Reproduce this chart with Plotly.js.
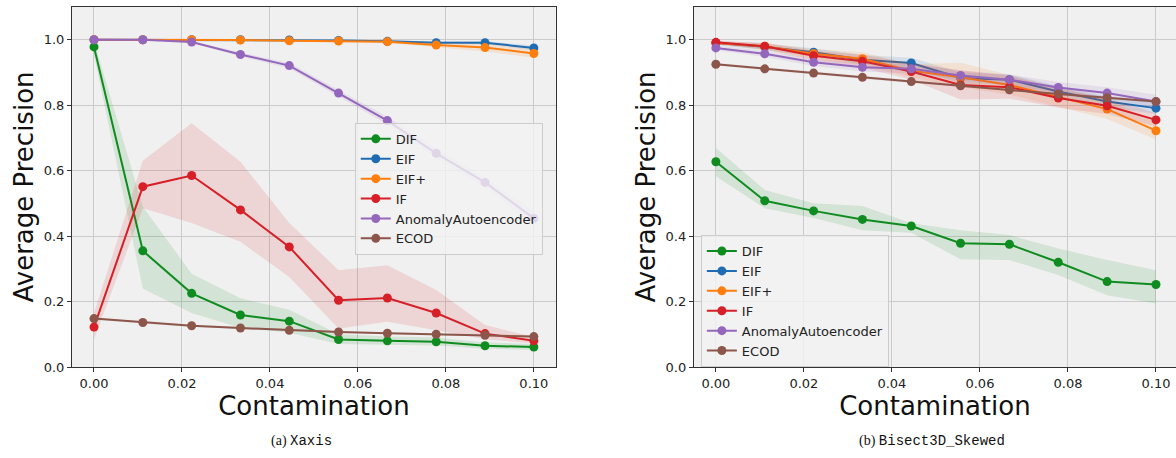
<!DOCTYPE html>
<html>
<head>
<meta charset="utf-8">
<script src="https://cdn.plot.ly/plotly-3.0.1.min.js"></script>
<style>
  html, body { margin: 0; padding: 0; background: #ffffff; }
  #chart { width: 1176px; height: 458px; }
</style>
</head>
<body>
<div id="chart"></div>
<script>
// ---------- data ----------
const contamination = [0.0, 0.0111, 0.0222, 0.0333, 0.0444, 0.0556, 0.0667, 0.0778, 0.0889, 0.1];
const methodNames = ["DIF", "EIF", "EIF+", "IF", "AnomalyAutoencoder", "ECOD"];
const methodColors = ["#0f8c1f", "#1f6cb3", "#ff7f0e", "#d61f26", "#9467bd", "#8c564b"];

// (a) Xaxis
const xaxis_DIF      = [0.978, 0.355, 0.225, 0.159, 0.140, 0.084, 0.080, 0.077, 0.065, 0.061];
const xaxis_DIF_lo   = [0.955, 0.240, 0.165, 0.120, 0.105, 0.070, 0.068, 0.066, 0.056, 0.052];
const xaxis_DIF_hi   = [0.995, 0.490, 0.285, 0.210, 0.175, 0.100, 0.093, 0.090, 0.075, 0.070];
const xaxis_EIF      = [1.000, 1.000, 1.000, 1.000, 0.999, 0.998, 0.995, 0.991, 0.991, 0.975];
const xaxis_EIF_lo   = [1.000, 1.000, 1.000, 0.998, 0.996, 0.995, 0.992, 0.987, 0.986, 0.968];
const xaxis_EIF_hi   = [1.000, 1.000, 1.000, 1.000, 1.000, 1.000, 0.998, 0.995, 0.996, 0.982];
const xaxis_EIFp     = [1.000, 1.000, 1.000, 0.999, 0.997, 0.996, 0.994, 0.984, 0.976, 0.958];
const xaxis_EIFp_lo  = [1.000, 1.000, 1.000, 0.997, 0.994, 0.993, 0.990, 0.977, 0.964, 0.945];
const xaxis_EIFp_hi  = [1.000, 1.000, 1.000, 1.000, 1.000, 0.999, 0.998, 0.991, 0.988, 0.971];
const xaxis_IF       = [0.122, 0.551, 0.585, 0.480, 0.367, 0.204, 0.211, 0.165, 0.102, 0.080];
const xaxis_IF_lo    = [0.085, 0.485, 0.440, 0.383, 0.275, 0.118, 0.138, 0.112, 0.085, 0.072];
const xaxis_IF_hi    = [0.165, 0.630, 0.745, 0.627, 0.440, 0.296, 0.311, 0.235, 0.128, 0.092];
const xaxis_AE       = [1.000, 1.000, 0.993, 0.955, 0.921, 0.837, 0.753, 0.653, 0.564, 0.454];
const xaxis_AE_lo    = [1.000, 1.000, 0.990, 0.949, 0.913, 0.827, 0.741, 0.638, 0.549, 0.434];
const xaxis_AE_hi    = [1.000, 1.000, 0.996, 0.961, 0.929, 0.847, 0.765, 0.668, 0.579, 0.474];
const xaxis_ECOD     = [0.148, 0.136, 0.126, 0.119, 0.112, 0.107, 0.103, 0.100, 0.097, 0.093];
const xaxis_ECOD_lo  = [0.144, 0.133, 0.123, 0.116, 0.109, 0.104, 0.100, 0.097, 0.094, 0.090];
const xaxis_ECOD_hi  = [0.152, 0.139, 0.129, 0.122, 0.115, 0.110, 0.106, 0.103, 0.100, 0.096];

// (b) Bisect3D_Skewed
const bisect_DIF     = [0.627, 0.508, 0.477, 0.451, 0.431, 0.378, 0.375, 0.320, 0.261, 0.252];
const bisect_DIF_lo  = [0.583, 0.485, 0.455, 0.418, 0.410, 0.329, 0.327, 0.281, 0.219, 0.194];
const bisect_DIF_hi  = [0.669, 0.541, 0.500, 0.492, 0.439, 0.418, 0.403, 0.362, 0.327, 0.296];
const bisect_EIF     = [0.990, 0.978, 0.962, 0.939, 0.929, 0.883, 0.878, 0.842, 0.811, 0.791];
const bisect_EIF_lo  = [0.984, 0.968, 0.950, 0.925, 0.913, 0.866, 0.862, 0.826, 0.795, 0.773];
const bisect_EIF_hi  = [0.996, 0.988, 0.974, 0.953, 0.945, 0.900, 0.894, 0.858, 0.827, 0.809];
const bisect_EIFp    = [0.990, 0.980, 0.957, 0.942, 0.905, 0.885, 0.862, 0.825, 0.788, 0.722];
const bisect_EIFp_lo = [0.985, 0.970, 0.942, 0.922, 0.885, 0.855, 0.832, 0.795, 0.758, 0.695];
const bisect_EIFp_hi = [0.995, 0.990, 0.972, 0.962, 0.925, 0.930, 0.892, 0.855, 0.818, 0.749];
const bisect_IF      = [0.992, 0.980, 0.951, 0.934, 0.903, 0.862, 0.855, 0.822, 0.798, 0.755];
const bisect_IF_lo   = [0.987, 0.970, 0.936, 0.914, 0.878, 0.817, 0.820, 0.792, 0.773, 0.735];
const bisect_IF_hi   = [0.997, 0.990, 0.966, 0.954, 0.928, 0.907, 0.890, 0.852, 0.823, 0.775];
const bisect_AE      = [0.975, 0.957, 0.931, 0.916, 0.911, 0.891, 0.878, 0.854, 0.837, 0.811];
const bisect_AE_lo   = [0.968, 0.948, 0.920, 0.903, 0.897, 0.876, 0.862, 0.837, 0.819, 0.790];
const bisect_AE_hi   = [0.982, 0.966, 0.942, 0.929, 0.925, 0.906, 0.894, 0.871, 0.855, 0.832];
const bisect_ECOD    = [0.925, 0.911, 0.898, 0.885, 0.872, 0.859, 0.847, 0.834, 0.823, 0.811];
const bisect_ECOD_lo = [0.921, 0.907, 0.894, 0.881, 0.868, 0.855, 0.843, 0.830, 0.819, 0.807];
const bisect_ECOD_hi = [0.929, 0.915, 0.902, 0.889, 0.876, 0.863, 0.851, 0.838, 0.827, 0.815];

const xTickVals  = [0.0, 0.02, 0.04, 0.06, 0.08, 0.10];
const xTickText  = ["0.00", "0.02", "0.04", "0.06", "0.08", "0.10"];
const yTickVals  = [0.0, 0.2, 0.4, 0.6, 0.8, 1.0];
const yTickText  = ["0.0", "0.2", "0.4", "0.6", "0.8", "1.0"];

const panelA = [
  [xaxis_DIF, xaxis_DIF_lo, xaxis_DIF_hi],
  [xaxis_EIF, xaxis_EIF_lo, xaxis_EIF_hi],
  [xaxis_EIFp, xaxis_EIFp_lo, xaxis_EIFp_hi],
  [xaxis_IF, xaxis_IF_lo, xaxis_IF_hi],
  [xaxis_AE, xaxis_AE_lo, xaxis_AE_hi],
  [xaxis_ECOD, xaxis_ECOD_lo, xaxis_ECOD_hi]
];
const panelB = [
  [bisect_DIF, bisect_DIF_lo, bisect_DIF_hi],
  [bisect_EIF, bisect_EIF_lo, bisect_EIF_hi],
  [bisect_EIFp, bisect_EIFp_lo, bisect_EIFp_hi],
  [bisect_IF, bisect_IF_lo, bisect_IF_hi],
  [bisect_AE, bisect_AE_lo, bisect_AE_hi],
  [bisect_ECOD, bisect_ECOD_lo, bisect_ECOD_hi]
];

function hexToRgba(hex, a) {
  const n = parseInt(hex.slice(1), 16);
  return `rgba(${(n >> 16) & 255},${(n >> 8) & 255},${n & 255},${a})`;
}

const traces = [];
function addPanel(panel, xa, ya, legendId) {
  panel.forEach((s, i) => {
    const [mean, lo, hi] = s;
    const col = methodColors[i];
    traces.push({
      x: contamination.concat(contamination.slice().reverse()),
      y: hi.concat(lo.slice().reverse()),
      xaxis: xa, yaxis: ya,
      type: "scatter", mode: "lines", fill: "toself",
      fillcolor: hexToRgba(col, 0.13),
      line: { width: 0, color: "rgba(0,0,0,0)" },
      hoverinfo: "skip", showlegend: false
    });
    traces.push({
      x: contamination, y: mean,
      xaxis: xa, yaxis: ya,
      type: "scatter", mode: "lines+markers",
      name: methodNames[i],
      legend: legendId,
      line: { color: col, width: 2 },
      marker: { color: col, size: 9 }
    });
  });
}
addPanel(panelA, "x", "y", "legend");
addPanel(panelB, "x2", "y2", "legend2");

const FONT = "DejaVu Sans, sans-serif";
const axisCommon = {
  showgrid: true, gridcolor: "#cbcbcb", gridwidth: 1,
  zeroline: false, showline: true, linecolor: "#333333", linewidth: 1, mirror: true,
  ticks: "outside", ticklen: 4, tickwidth: 1, tickcolor: "#333333",
  tickfont: { family: FONT, size: 13, color: "#222222" }
};

const mL = 72.3, mT = 7.3, mB = 91.3, mR = 0;
const plotW = 1176 - mL - mR;
const plotH = 458 - mT - mB;

const legendCommon = {
  bgcolor: "rgba(243,243,243,0.8)", bordercolor: "#cccccc", borderwidth: 1,
  font: { family: FONT, size: 13, color: "#222222" },
  xanchor: "left", yanchor: "top", itemwidth: 30, tracegroupgap: 0
};

const layout = {
  width: 1176, height: 458,
  paper_bgcolor: "#ffffff", plot_bgcolor: "#f0f0f0",
  margin: { l: mL, r: mR, t: mT, b: mB, pad: 0 },
  showlegend: true,
  xaxis: Object.assign({}, axisCommon, {
    domain: [0, (556 - mL) / plotW], range: [-0.005, 0.105],
    tickvals: xTickVals, ticktext: xTickText,
    title: { text: "Contamination", font: { family: FONT, size: 26, color: "#111111" }, standoff: 6 },
    anchor: "y"
  }),
  yaxis: Object.assign({}, axisCommon, {
    domain: [0, 1], range: [0, 1.1],
    tickvals: yTickVals, ticktext: yTickText,
    title: { text: "Average Precision", font: { family: FONT, size: 26, color: "#111111" }, standoff: 2 },
    anchor: "x"
  }),
  xaxis2: Object.assign({}, axisCommon, {
    domain: [(694 - mL) / plotW, 1], range: [-0.005, 0.10455],
    tickvals: xTickVals, ticktext: xTickText,
    title: { text: "Contamination", font: { family: FONT, size: 26, color: "#111111" }, standoff: 6 },
    anchor: "y2"
  }),
  yaxis2: Object.assign({}, axisCommon, {
    domain: [0, 1], range: [0, 1.1],
    tickvals: yTickVals, ticktext: yTickText,
    title: { text: "Average Precision", font: { family: FONT, size: 26, color: "#111111" }, standoff: 2 },
    anchor: "x2"
  }),
  legend: Object.assign({}, legendCommon, {
    x: (355 - mL) / plotW, y: (366.7 - 123) / plotH
  }),
  legend2: Object.assign({}, legendCommon, {
    x: (701 - mL) / plotW, y: (366.7 - 235) / plotH
  }),
  annotations: [
    {
      xref: "paper", yref: "paper",
      x: (302 - mL) / plotW, y: -(441 - 366.7) / plotH,
      xanchor: "center", yanchor: "middle", showarrow: false,
      text: "(a) <span style=\"font-family:'Liberation Mono', 'DejaVu Sans Mono', monospace\">Xaxis</span>",
      font: { family: "Liberation Serif, Times New Roman, serif", size: 14, color: "#111111" }
    },
    {
      xref: "paper", yref: "paper",
      x: (932 - mL) / plotW, y: -(441 - 366.7) / plotH,
      xanchor: "center", yanchor: "middle", showarrow: false,
      text: "(b) <span style=\"font-family:'Liberation Mono', 'DejaVu Sans Mono', monospace\">Bisect3D_Skewed</span>",
      font: { family: "Liberation Serif, Times New Roman, serif", size: 14, color: "#111111" }
    }
  ]
};

Plotly.newPlot("chart", traces, layout, { displayModeBar: false, staticPlot: true });
</script>
</body>
</html>
